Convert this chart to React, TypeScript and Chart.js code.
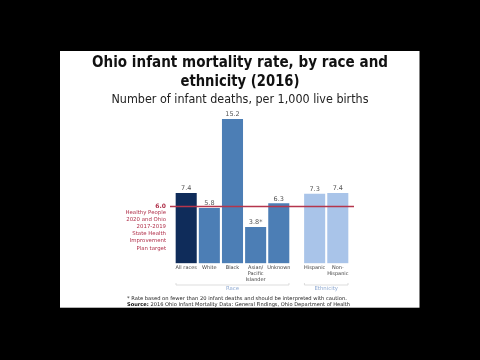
import React, { useEffect, useRef } from 'react';
import { Chart, registerables } from 'chart.js';

Chart.register(...registerables);

// ---------- data ----------
const titleLines = ['Ohio infant mortality rate, by race and', 'ethnicity (2016)'];
const subtitle = 'Number of infant deaths, per 1,000 live births';

const raceCategories = ['All races', 'White', 'Black', 'Asian/\nPacific\nIslander', 'Unknown'];
const raceValues = [7.4, 5.8, 15.2, 3.8, 6.3];
const raceFewDeaths = [false, false, false, true, false];

const ethnicityCategories = ['Hispanic', 'Non-\nHispanic'];
const ethnicityValues = [7.3, 7.4];
const ethnicityFewDeaths = [false, false];

const groupNames = ['Race', 'Ethnicity'];

const targetValue = 6.0;
const targetText = ['Healthy People', '2020 and Ohio', '2017-2019', 'State Health', 'Improvement', 'Plan target'];

const footnote = '* Rate based on fewer than 20 infant deaths and should be interpreted with caution.';
const sourceLabel = 'Source:';
const sourceText = ' 2016 Ohio Infant Mortality Data: General Findings, Ohio Department of Health';

// ---------- layout / style constants ----------
const GROUP_GAP = 0.55;
const FONT = '"DejaVu Sans", sans-serif';
const COLORS = {
  allRaces: '#0F2C5A',
  race: '#4C7EB5',
  ethnicity: '#A9C4E9',
  target: '#B5354C',
  targetText: '#B0304A',
  valueText: '#555555',
  tickText: '#404040',
  groupLine: '#D4D4D4',
  groupText: '#8FAAD2',
};

const categories = [...raceCategories, ...ethnicityCategories];
const values = [...raceValues, ...ethnicityValues];
const fewDeaths = [...raceFewDeaths, ...ethnicityFewDeaths];
const xPositions = [
  ...raceCategories.map((_, i) => i),
  ...ethnicityCategories.map((_, j) => raceCategories.length + GROUP_GAP + j),
];
const barColors = [
  ...raceCategories.map((_, i) => (i === 0 ? COLORS.allRaces : COLORS.race)),
  ...ethnicityCategories.map(() => COLORS.ethnicity),
];

function txt(ctx: CanvasRenderingContext2D, s: string, x: number, y: number, size: number, weight: string, color: string, align: CanvasTextAlign, maxW?: number) {
  ctx.font = `${weight} ${size}px ${FONT}`;
  ctx.fillStyle = color;
  ctx.textAlign = align;
  ctx.textBaseline = 'middle';
  if (maxW) ctx.fillText(s, x, y, maxW);
  else ctx.fillText(s, x, y);
}

const slidePlugin = {
  id: 'slide',
  beforeDraw(chart: any) {
    const ctx = chart.ctx as CanvasRenderingContext2D;
    ctx.save();
    ctx.fillStyle = '#000000';
    ctx.fillRect(0, 0, chart.width, chart.height);
    ctx.fillStyle = '#FFFFFF';
    ctx.fillRect(60, 51, 359.5, 256.7);
    ctx.restore();
  },
  afterDatasetsDraw(chart: any) {
    const ctx = chart.ctx as CanvasRenderingContext2D;
    const area = chart.chartArea;
    const yScale = chart.scales.y;
    const bars = chart.getDatasetMeta(0).data;
    ctx.save();

    // target line
    const ty = yScale.getPixelForValue(targetValue);
    ctx.strokeStyle = COLORS.target;
    ctx.lineWidth = 1.4;
    ctx.beginPath();
    ctx.moveTo(area.left, ty);
    ctx.lineTo(area.right, ty);
    ctx.stroke();

    // target label
    txt(ctx, targetValue.toFixed(1), 166, ty - 0.5, 6, 'bold', COLORS.targetText, 'right');
    targetText.forEach((line, i) => {
      txt(ctx, line, 166, ty + 6.2 + i * 7.1, 5.4, 'normal', COLORS.targetText, 'right', 41);
    });

    // value labels
    bars.forEach((bar: any, i: number) => {
      const label = values[i].toFixed(1) + (fewDeaths[i] ? '*' : '');
      txt(ctx, label, bar.x, bar.y - 4.8, 6.5, 'normal', COLORS.valueText, 'center');
    });

    // group brackets
    const groups = [
      { name: groupNames[0], from: 0, to: raceCategories.length - 1 },
      { name: groupNames[1], from: raceCategories.length, to: categories.length - 1 },
    ];
    groups.forEach((g) => {
      const b0 = bars[g.from];
      const b1 = bars[g.to];
      const x0 = b0.x - b0.width / 2;
      const x1 = b1.x + b1.width / 2;
      const gy = 285;
      ctx.strokeStyle = COLORS.groupLine;
      ctx.lineWidth = 0.8;
      ctx.beginPath();
      ctx.moveTo(x0, gy - 2);
      ctx.lineTo(x0, gy);
      ctx.lineTo(x1, gy);
      ctx.lineTo(x1, gy - 2);
      ctx.stroke();
      txt(ctx, g.name, (x0 + x1) / 2, gy + 3.6, 5.4, 'normal', COLORS.groupText, 'center');
    });

    // titles
    txt(ctx, titleLines[0], 240, 63.5, 15, 'bold', '#111111', 'center', 296);
    txt(ctx, titleLines[1], 240, 82.5, 15, 'bold', '#111111', 'center', 119);
    txt(ctx, subtitle, 240, 99.7, 12, 'normal', '#222222', 'center', 257);

    // footnotes
    txt(ctx, footnote, 127, 299, 5.2, 'normal', '#222222', 'left', 221);
    ctx.font = `bold 5.2px ${FONT}`;
    const wBold = ctx.measureText(sourceLabel).width;
    ctx.font = `normal 5.2px ${FONT}`;
    const wNorm = ctx.measureText(sourceText).width;
    const k = Math.min(1, 223 / (wBold + wNorm));
    txt(ctx, sourceLabel, 127, 304.6, 5.2, 'bold', '#111111', 'left', wBold * k);
    txt(ctx, sourceText, 127 + wBold * k, 304.6, 5.2, 'normal', '#222222', 'left', wNorm * k);

    ctx.restore();
  },
};

export default function App() {
  const canvasRef = useRef<HTMLCanvasElement | null>(null);

  useEffect(() => {
    document.body.style.margin = '0';
    document.body.style.background = '#000';
    const canvas = canvasRef.current;
    if (!canvas) return;
    const chart = new Chart(canvas, {
      type: 'bar',
      data: {
        datasets: [
          {
            data: values.map((v, i) => ({ x: xPositions[i], y: v })),
            backgroundColor: barColors,
            borderWidth: 0,
            barThickness: 20.4,
          },
        ],
      },
      options: {
        animation: false,
        responsive: true,
        maintainAspectRatio: false,
        devicePixelRatio: 1,
        layout: { padding: { left: 170, right: 126, top: 111.8, bottom: 66.7 } },
        plugins: { legend: { display: false }, tooltip: { enabled: false }, title: { display: false } },
        scales: {
          x: {
            type: 'linear',
            min: -0.7,
            max: 7.25,
            offset: false,
            grid: { display: false, drawTicks: false },
            border: { display: false },
            afterBuildTicks: (scale: any) => {
              scale.ticks = xPositions.map((v) => ({ value: v }));
            },
            afterFit: (scale: any) => {
              scale.height = 30;
            },
            ticks: {
              autoSkip: false,
              maxRotation: 0,
              minRotation: 0,
              padding: 1,
              color: COLORS.tickText,
              font: { family: FONT, size: 5, lineHeight: 1.2 },
              callback: (_v: any, index: number) => categories[index].split('\n'),
            },
          },
          y: {
            display: false,
            min: 0,
            max: 16,
          },
        },
      },
      plugins: [slidePlugin],
    } as any);
    return () => chart.destroy();
  }, []);

  return (
    <div style={{ width: 480, height: 360, position: 'relative', background: '#000' }}>
      <canvas ref={canvasRef} />
    </div>
  );
}
